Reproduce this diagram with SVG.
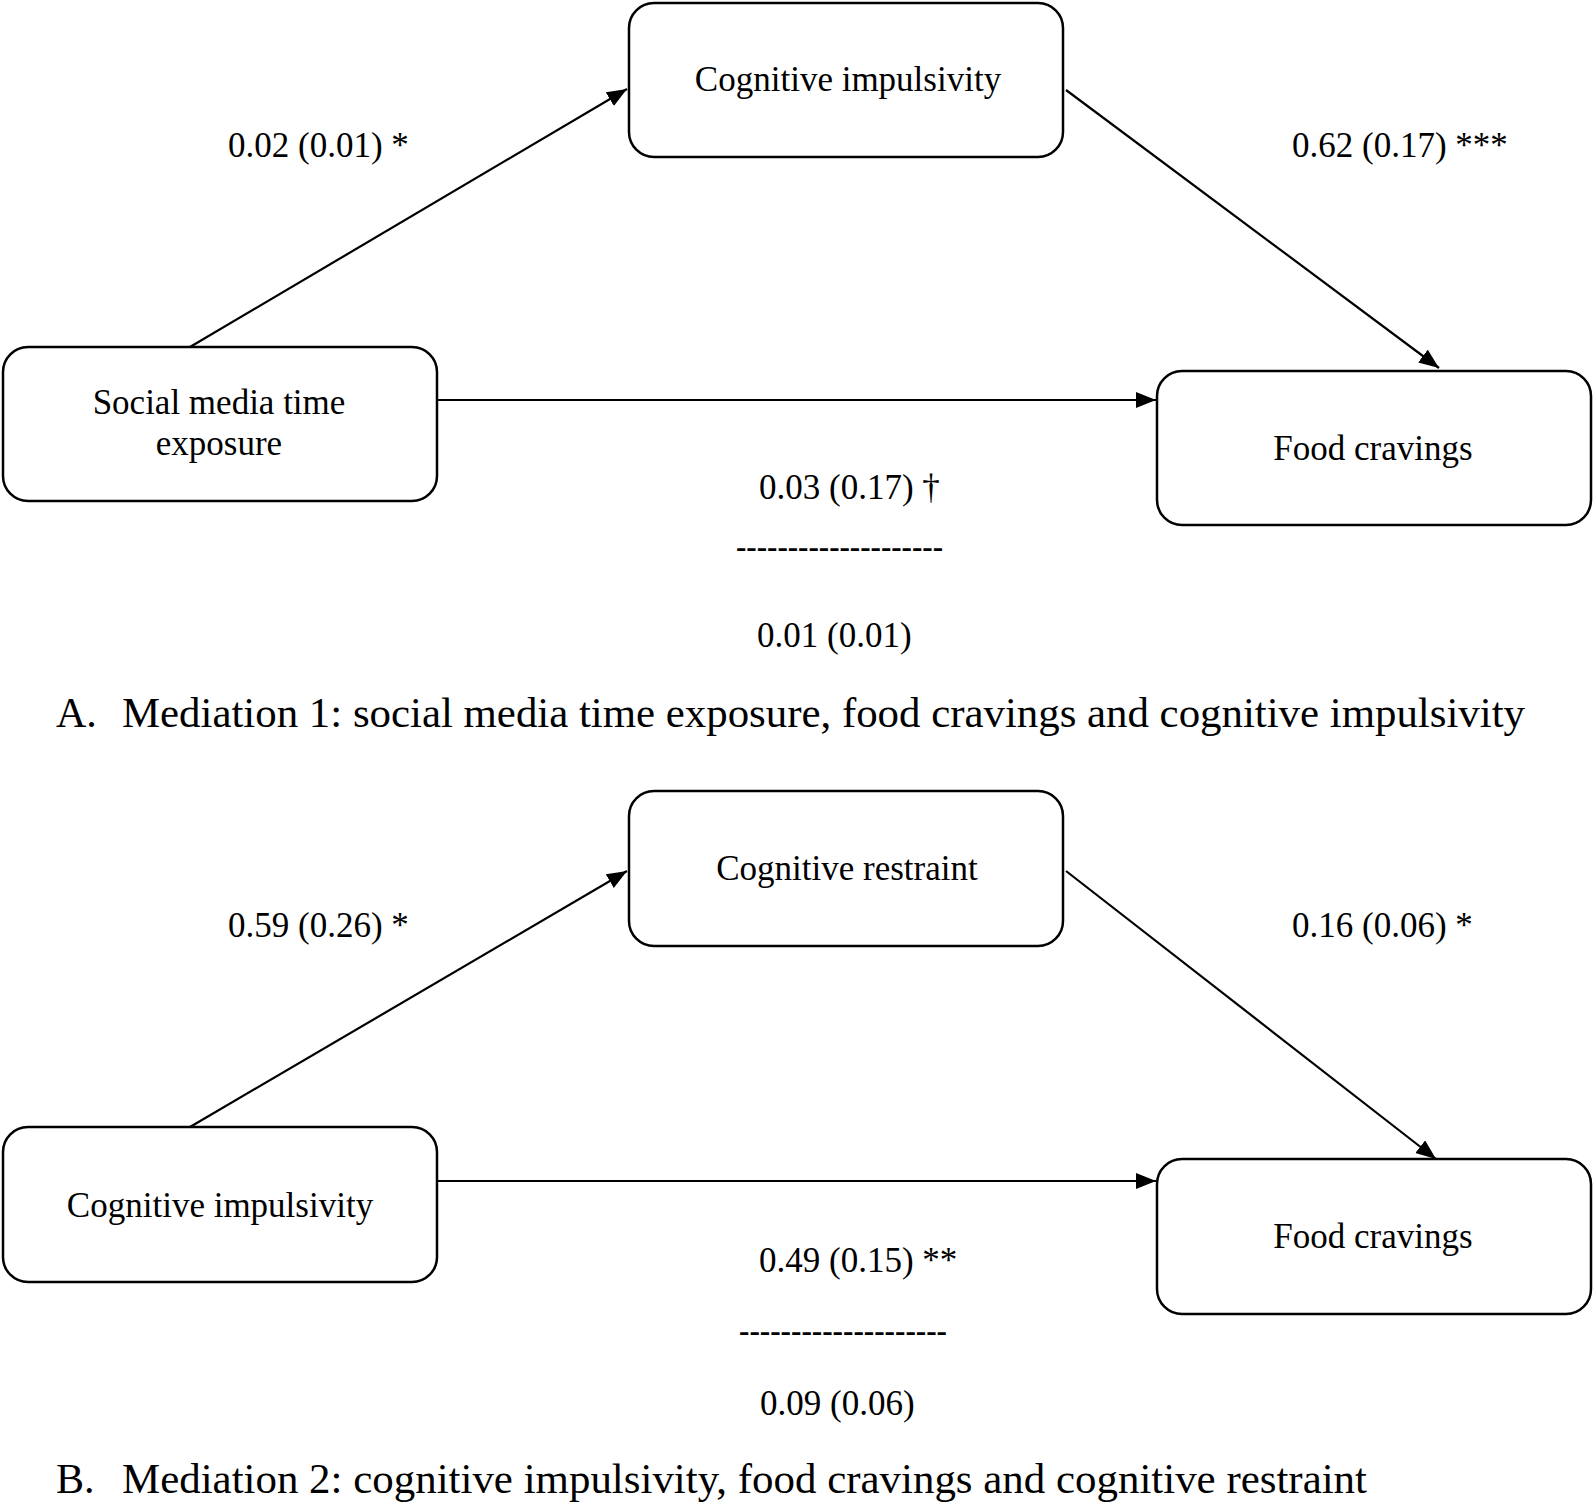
<svg xmlns="http://www.w3.org/2000/svg" width="1594" height="1504" viewBox="0 0 1594 1504">
<style>
.box{fill:#fff;stroke:#000;stroke-width:2.5}
.t{font-family:"Liberation Serif","Times New Roman",serif;font-size:35px;fill:#000}
.c{text-anchor:middle}
.cap{font-family:"Liberation Serif","Times New Roman",serif;font-size:42px;fill:#000}
.ln{stroke:#000;stroke-width:2.2;fill:none;marker-end:url(#ah)}
</style>
<defs>
<marker id="ah" markerUnits="userSpaceOnUse" markerWidth="22" markerHeight="18" refX="20" refY="8" orient="auto">
<path d="M0,0 L20,8 L0,16 z" fill="#000"/>
</marker>
</defs>
<rect width="1594" height="1504" fill="#fff"/>

<g id="connectors">
<line class="ln" x1="190" y1="347" x2="627" y2="89"/>
<line class="ln" x1="1066" y1="90" x2="1439" y2="368"/>
<line class="ln" x1="437" y1="400" x2="1156" y2="400"/>
<line class="ln" x1="190" y1="1127" x2="627" y2="871"/>
<line class="ln" x1="1066" y1="871" x2="1436" y2="1159"/>
<line class="ln" x1="437" y1="1181" x2="1156" y2="1181"/>
</g>

<g id="nodeA1">
<rect class="box" x="629" y="3" width="434" height="154" rx="25"/>
<text class="t c" x="848" y="91">Cognitive impulsivity</text>
</g>
<g id="nodeA2">
<rect class="box" x="3" y="347" width="434" height="154" rx="25"/>
<text class="t c" x="219" y="414">Social media time</text>
<text class="t c" x="219" y="455">exposure</text>
</g>
<g id="nodeA3">
<rect class="box" x="1157" y="371" width="434" height="154" rx="25"/>
<text class="t c" x="1373" y="460">Food cravings</text>
</g>

<g id="nodeB1">
<rect class="box" x="629" y="791" width="434" height="155" rx="25"/>
<text class="t c" x="847" y="880">Cognitive restraint</text>
</g>
<g id="nodeB2">
<rect class="box" x="3" y="1127" width="434" height="155" rx="25"/>
<text class="t c" x="220" y="1217">Cognitive impulsivity</text>
</g>
<g id="nodeB3">
<rect class="box" x="1157" y="1159" width="434" height="155" rx="25"/>
<text class="t c" x="1373" y="1248">Food cravings</text>
</g>

<g id="labels">
<text class="t" x="228" y="157">0.02 (0.01) *</text>
<text class="t" x="1292" y="157">0.62 (0.17) ***</text>
<text class="t" x="759" y="499">0.03 (0.17) †</text>
<text class="t" x="736" y="558" textLength="207" lengthAdjust="spacingAndGlyphs">--------------------</text>
<text class="t" x="757" y="647">0.01 (0.01)</text>
<text class="cap" x="56" y="727">A.</text>
<text class="cap" x="122" y="727" textLength="1403" lengthAdjust="spacingAndGlyphs">Mediation 1: social media time exposure, food cravings and cognitive impulsivity</text>

<text class="t" x="228" y="937">0.59 (0.26) *</text>
<text class="t" x="1292" y="937">0.16 (0.06) *</text>
<text class="t" x="759" y="1272">0.49 (0.15) **</text>
<text class="t" x="739" y="1342" textLength="208" lengthAdjust="spacingAndGlyphs">--------------------</text>
<text class="t" x="760" y="1415">0.09 (0.06)</text>
<text class="cap" x="56" y="1493">B.</text>
<text class="cap" x="122" y="1493" textLength="1245" lengthAdjust="spacingAndGlyphs">Mediation 2: cognitive impulsivity, food cravings and cognitive restraint</text>
</g>
</svg>
